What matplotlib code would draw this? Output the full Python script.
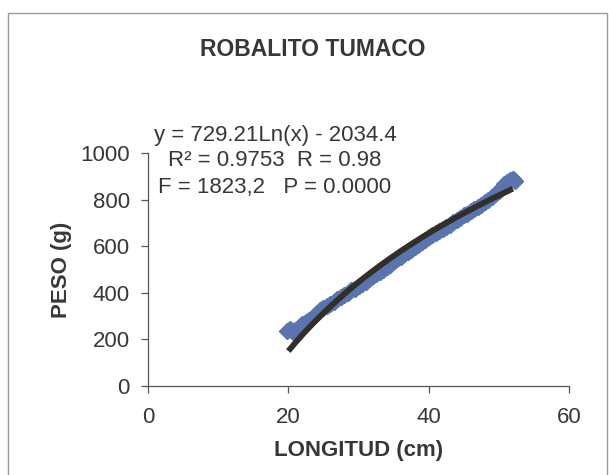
import numpy as np
import matplotlib
matplotlib.use("Agg")
import matplotlib.pyplot as plt
from matplotlib.patches import Rectangle

longitud = [19.8, 20.2, 20.6, 21.0, 21.5, 22.0, 22.5, 23.0, 23.5, 24.0, 24.5, 25.0,
            25.5, 26.0, 26.5, 27.0, 27.5, 28.0, 28.5, 29.0, 29.5, 30.0, 30.5, 31.0,
            31.5, 32.0, 32.5, 33.0, 33.5, 34.0, 34.5, 35.0, 35.5, 36.0, 36.5, 37.0,
            37.5, 38.0, 38.5, 39.0, 39.5, 40.0, 40.5, 41.0, 41.5, 42.0, 42.5, 43.0,
            43.5, 44.0, 44.5, 45.0, 45.5, 46.0, 46.5, 47.0, 47.5, 48.0, 48.5, 49.0,
            49.5, 50.0, 50.4, 50.8, 51.2, 51.6, 52.0, 52.3]
peso = [235, 245, 232, 240, 255, 265, 275, 285, 298, 310, 325, 335,
        345, 352, 360, 372, 380, 390, 398, 410, 418, 428, 438, 448,
        458, 470, 480, 490, 500, 510, 520, 535, 545, 555, 565, 575,
        585, 595, 605, 618, 628, 638, 648, 656, 664, 673, 682, 692,
        702, 712, 722, 732, 740, 750, 760, 768, 778, 788, 798, 810,
        822, 838, 852, 866, 876, 884, 888, 880]

# Logarithmic fit reported on the chart
coef_a = 729.21
coef_b = -2034.4
fit_x = np.linspace(20, 52, 200)
fit_y = coef_a * np.log(fit_x) + coef_b

x_ticks = [0, 20, 40, 60]
y_ticks = [0, 200, 400, 600, 800, 1000]

title = "ROBALITO TUMACO"
xlabel = "LONGITUD (cm)"
ylabel = "PESO (g)"
eq_lines = ["y = 729.21Ln(x) - 2034.4",
            "R² = 0.9753  R = 0.98",
            "F = 1823,2   P = 0.0000"]

plt.rcParams['font.family'] = ['Liberation Sans', 'DejaVu Sans']
txt = '#3b3636'

W, H = 609, 475
fig = plt.figure(figsize=(W / 100, H / 100), dpi=100)
fig.patch.set_facecolor('white')

# scanned frame
fig.patches.append(Rectangle((8 / W, -0.05), (607 - 8) / W, 1.05 - 13 / H,
                             transform=fig.transFigure, fill=False,
                             edgecolor='#9a9a9a', linewidth=1.0))

l, r, t, b = 148, 569, 153, 386
ax = fig.add_axes([l / W, 1 - b / H, (r - l) / W, (b - t) / H])
ax.set_xlim(0, 60)
ax.set_ylim(0, 1000)

ax.scatter(longitud, peso, marker='D', s=60, color='#5a75ad', edgecolors='#5a75ad',
           linewidths=1.5, zorder=2)
ax.plot(fit_x, fit_y, color='#322f2a', linewidth=4.2, solid_capstyle='butt', zorder=3)

for s in ['top', 'right']:
    ax.spines[s].set_visible(False)
for s in ['left', 'bottom']:
    ax.spines[s].set_color('#555555')
    ax.spines[s].set_linewidth(0.9)

ax.set_xticks(x_ticks)
ax.set_yticks(y_ticks)
ax.tick_params(axis='both', direction='out', length=5, width=0.9, colors='#555555',
               labelsize=16, labelcolor=txt)
ax.tick_params(axis='x', pad=10)
ax.tick_params(axis='y', pad=8)

ax.set_xlabel(xlabel, fontsize=16, fontweight='bold', color=txt, labelpad=9)
ax.set_ylabel(ylabel, fontsize=16, fontweight='bold', color=txt, labelpad=6)

fig.text(313 / W, 1 - 50 / H, title, ha='center', va='center', fontsize=16.5,
         fontweight='bold', color=txt)

for i, line in enumerate(eq_lines):
    fig.text(275 / W, 1 - (135 + 26 * i) / H, line, ha='center', va='center',
             fontsize=16, color=txt)

fig.savefig('out.png', dpi=100, facecolor='white')
